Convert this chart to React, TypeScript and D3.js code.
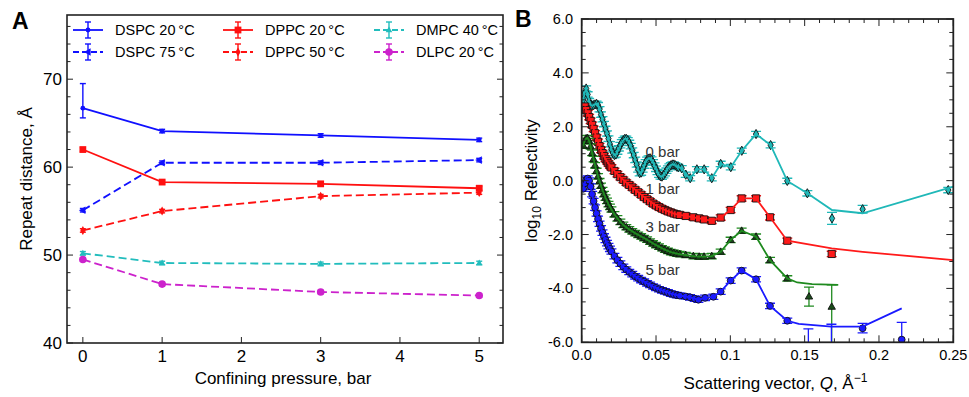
import React from 'react';
import * as d3 from 'd3';

// ---------- Panel A data ----------
const pressures = [0, 1, 3, 5];
const dspc20 = [66.7, 64.1, 63.6, 63.1];
const dspc75 = [55.1, 60.5, 60.5, 60.8];
const dppc20 = [62.0, 58.3, 58.1, 57.6];
const dppc50 = [52.8, 55.0, 56.7, 57.1];
const dmpc40 = [50.2, 49.1, 49.0, 49.1];
const dlpc20 = [49.5, 46.7, 45.8, 45.4];
const dspc20ErrLo = [1.1, 0.2, 0.2, 0.2];
const dspc20ErrHi = [2.8, 0.2, 0.2, 0.2];
const xTicksA = [0, 1, 2, 3, 4, 5];
const yTicksA = [40, 50, 60, 70];

// ---------- Panel B data (Q in 1/Å, log10 R) ----------
const bar0Points: [number, number][] = [
  [0.001, 3.0], [0.002, 3.25], [0.003, 3.42], [0.004, 3.2], [0.005, 2.95], [0.006, 2.82],
  [0.007, 2.78], [0.008, 2.8], [0.009, 2.83], [0.010, 2.85], [0.011, 2.8], [0.012, 2.65],
  [0.013, 2.45], [0.014, 2.28], [0.015, 2.1], [0.016, 1.92], [0.017, 1.75], [0.018, 1.56],
  [0.019, 1.35], [0.020, 1.17], [0.021, 1.03], [0.022, 0.95], [0.023, 0.97], [0.024, 1.08],
  [0.025, 1.2], [0.026, 1.32], [0.027, 1.42], [0.028, 1.5], [0.029, 1.55], [0.030, 1.55],
  [0.031, 1.5], [0.032, 1.4], [0.033, 1.28], [0.034, 1.12], [0.035, 0.95], [0.036, 0.77],
  [0.037, 0.6], [0.038, 0.42], [0.039, 0.28], [0.040, 0.3], [0.041, 0.42], [0.042, 0.56],
  [0.043, 0.68], [0.044, 0.77], [0.045, 0.82], [0.046, 0.83], [0.047, 0.78], [0.048, 0.68],
  [0.049, 0.56], [0.050, 0.44], [0.051, 0.32], [0.052, 0.22], [0.053, 0.16], [0.054, 0.15],
  [0.055, 0.2], [0.056, 0.28], [0.057, 0.37], [0.058, 0.45], [0.059, 0.52], [0.060, 0.57],
  [0.061, 0.6], [0.062, 0.6], [0.063, 0.57], [0.064, 0.52], [0.065, 0.5], [0.0673, 0.46],
  [0.070, 0.22], [0.073, 0.09], [0.0775, 0.42], [0.0824, 0.42], [0.0875, 0.09], [0.0935, 0.62],
  [0.1003, 0.5], [0.1077, 1.11], [0.1173, 1.73], [0.1271, 1.32], [0.1383, -0.01], [0.1518, -0.47],
  [0.1684, -1.4], [0.189, -1.06], [0.2466, -0.35],
];
const bar0Fit: [number, number][] = [[0.1518, -0.47], [0.1684, -1.09], [0.189, -1.21], [0.25, -0.22]];

const bar1Points: [number, number][] = [
  [0.002, 2.75], [0.003, 2.62], [0.004, 2.5], [0.005, 2.36], [0.006, 2.22], [0.007, 2.07],
  [0.008, 1.92], [0.009, 1.76], [0.010, 1.6], [0.011, 1.44], [0.012, 1.28], [0.013, 1.14],
  [0.014, 1.02], [0.015, 0.91], [0.016, 0.81], [0.017, 0.72], [0.018, 0.64], [0.019, 0.56],
  [0.020, 0.49], [0.022, 0.36], [0.024, 0.24], [0.026, 0.13], [0.028, 0.03], [0.030, -0.07],
  [0.032, -0.16], [0.034, -0.25], [0.036, -0.34], [0.038, -0.43], [0.040, -0.52], [0.042, -0.61],
  [0.044, -0.69], [0.046, -0.77], [0.048, -0.85], [0.050, -0.92], [0.052, -0.98], [0.054, -1.04],
  [0.056, -1.09], [0.058, -1.14], [0.060, -1.18], [0.062, -1.22], [0.064, -1.25], [0.066, -1.27],
  [0.070, -1.31], [0.0751, -1.36], [0.079, -1.4], [0.0823, -1.44], [0.0875, -1.49], [0.0935, -1.37],
  [0.1002, -1.09], [0.1076, -0.66], [0.1173, -0.66], [0.1267, -1.36], [0.1383, -2.23], [0.1682, -2.72],
];
const bar1Fit: [number, number][] = [[0.1383, -2.23], [0.1682, -2.51], [0.189, -2.64], [0.25, -2.95]];

const bar3Points: [number, number][] = [
  [0.001, 1.3], [0.002, 1.48], [0.003, 1.57], [0.004, 1.58], [0.005, 1.47], [0.006, 1.27],
  [0.007, 1.03], [0.008, 0.8], [0.009, 0.57], [0.010, 0.36], [0.011, 0.16], [0.012, -0.02],
  [0.013, -0.19], [0.014, -0.35], [0.015, -0.5], [0.016, -0.63], [0.017, -0.75], [0.018, -0.87],
  [0.019, -0.97], [0.020, -1.07], [0.022, -1.25], [0.024, -1.4], [0.026, -1.53], [0.028, -1.64],
  [0.030, -1.73], [0.032, -1.81], [0.034, -1.88], [0.036, -1.95], [0.038, -2.01], [0.040, -2.07],
  [0.042, -2.13], [0.044, -2.19], [0.046, -2.26], [0.048, -2.33], [0.050, -2.39], [0.052, -2.45],
  [0.054, -2.51], [0.056, -2.56], [0.058, -2.61], [0.060, -2.65], [0.062, -2.68], [0.064, -2.71],
  [0.066, -2.73], [0.070, -2.76], [0.0751, -2.8], [0.079, -2.82], [0.0823, -2.82], [0.0875, -2.8],
  [0.0935, -2.64], [0.1002, -2.2], [0.1076, -1.86], [0.1173, -2.08], [0.1267, -2.95], [0.1383, -3.63],
  [0.1529, -4.3], [0.1682, -4.68],
];
const bar3Fit: [number, number][] = [[0.1383, -3.63], [0.145, -3.78], [0.155, -3.84], [0.1726, -3.87]];

const bar5Points: [number, number][] = [
  [0.001, -0.3], [0.002, -0.1], [0.003, 0.03], [0.004, 0.08], [0.005, 0.0], [0.006, -0.22],
  [0.007, -0.5], [0.008, -0.76], [0.009, -1.0], [0.010, -1.22], [0.011, -1.42], [0.012, -1.6],
  [0.013, -1.77], [0.014, -1.93], [0.015, -2.07], [0.016, -2.2], [0.017, -2.32], [0.018, -2.43],
  [0.019, -2.53], [0.020, -2.63], [0.022, -2.8], [0.024, -2.95], [0.026, -3.08], [0.028, -3.2],
  [0.030, -3.3], [0.032, -3.39], [0.034, -3.47], [0.036, -3.55], [0.038, -3.62], [0.040, -3.69],
  [0.042, -3.75], [0.044, -3.81], [0.046, -3.87], [0.048, -3.93], [0.050, -3.98], [0.052, -4.03],
  [0.054, -4.07], [0.056, -4.11], [0.058, -4.15], [0.060, -4.19], [0.062, -4.22], [0.064, -4.25],
  [0.066, -4.27], [0.070, -4.3], [0.0729, -4.33], [0.076, -4.38], [0.0785, -4.42], [0.083, -4.35],
  [0.0886, -4.31], [0.0935, -4.12], [0.1002, -3.71], [0.1076, -3.34], [0.1173, -3.66], [0.1267, -4.65],
  [0.1383, -5.2], [0.1525, -6.3], [0.168, -6.4], [0.189, -5.48], [0.2153, -5.9],
];
const bar5Fit: [number, number][] = [[0.1383, -5.2], [0.146, -5.32], [0.168, -5.42], [0.189, -5.42], [0.2153, -4.74]];

// error bars that differ from the default ±0.1 : [Q, low, high]
const bar0Err: [number, number, number][] = [[0.1684, -1.62, -1.18], [0.189, -1.2, -0.92]];
const bar3Err: [number, number, number][] = [[0.1529, -4.66, -3.95], [0.1682, -7.5, -3.87]];
const bar5Err: [number, number, number][] = [[0.1525, -7.0, -5.5], [0.168, -7.0, -5.33], [0.189, -5.65, -5.3], [0.2153, -6.54, -5.26]];

const qTicks = [0, 0.05, 0.1, 0.15, 0.2, 0.25];
const qTickLabels = ['0.0', '0.05', '0.1', '0.15', '0.2', '0.25'];
const rTicks = [6, 4, 2, 0, -2, -4, -6];
const rTickLabels = ['6.0', '4.0', '2.0', '0.0', '-2.0', '-4.0', '-6.0'];

const FONT = 'Liberation Sans, Arial, Helvetica, sans-serif';

function marker(kind: string, s: number) {
  switch (kind) {
    case 'circle':
      return d3.symbol(d3.symbolCircle, Math.PI * s * s)() as string;
    case 'square':
      return `M${-s},${-s}h${2 * s}v${2 * s}h${-2 * s}Z`;
    case 'triUp':
      return `M0,${-s}L${s * 0.95},${s * 0.65}L${-s * 0.95},${s * 0.65}Z`;
    case 'triLeft':
      return `M${-s},0L${s * 0.65},${-s * 0.95}L${s * 0.65},${s * 0.95}Z`;
    case 'diamond':
      return `M0,${-s * 1.4}L${s * 0.8},0L0,${s * 1.4}L${-s * 0.8},0Z`;
    default:
      return '';
  }
}

const seriesA = [
  { name: 'DSPC 20\u2009°C', values: dspc20, color: '#1010ff', dash: '', kind: 'circle', size: 2.4 },
  { name: 'DSPC 75\u2009°C', values: dspc75, color: '#1010ff', dash: '8,4', kind: 'triLeft', size: 4 },
  { name: 'DPPC 20\u2009°C', values: dppc20, color: '#ff1010', dash: '', kind: 'square', size: 3.4 },
  { name: 'DPPC 50\u2009°C', values: dppc50, color: '#ff1010', dash: '8,4', kind: 'diamond', size: 3.2 },
  { name: 'DMPC 40\u2009°C', values: dmpc40, color: '#22bdbd', dash: '8,4', kind: 'triUp', size: 3.5 },
  { name: 'DLPC 20\u2009°C', values: dlpc20, color: '#cc22cc', dash: '8,4', kind: 'circle', size: 3.8 },
];

const seriesB = [
  { label: '0 bar', pts: bar0Points, fit: bar0Fit, err: bar0Err, color: '#20b8b8', fill: '#20b8b8', kind: 'diamond', size: 3.3, labelQ: 0.043, labelR: 0.87 },
  { label: '1 bar', pts: bar1Points, fit: bar1Fit, err: [] as [number, number, number][], color: '#ff1a1a', fill: '#ff1a1a', kind: 'square', size: 3.6, labelQ: 0.043, labelR: -0.5 },
  { label: '3 bar', pts: bar3Points, fit: bar3Fit, err: bar3Err, color: '#1f8a1f', fill: '#1a4d1a', kind: 'triUp', size: 3.9, labelQ: 0.043, labelR: -1.9 },
  { label: '5 bar', pts: bar5Points, fit: bar5Fit, err: bar5Err, color: '#1a1aff', fill: '#1a1aff', kind: 'circle', size: 3.4, labelQ: 0.043, labelR: -3.5 },
];

function PanelA() {
  const L = 67, R = 503, T = 15, B = 343;
  const x = d3.scaleLinear([-0.2, 5.3], [L, R]);
  const y = d3.scaleLinear([40, 77.3], [B, T]);
  const line = d3.line<number>().x((_, i) => x(pressures[i])).y(d => y(d));
  const minorY = d3.range(42, 77, 2).filter(v => v % 10 !== 0);
  return (
    <g fontFamily={FONT}>
      <text x={12} y={29} fontSize={23} fontWeight="bold">A</text>
      {seriesA.map((s, si) => (
        <g key={si}>
          <path d={line(s.values) as string} fill="none" stroke={s.color} strokeWidth={1.8} strokeDasharray={s.dash} />
          {s.values.map((v, i) => {
            const lo = si === 0 ? v - dspc20ErrLo[i] : v - 0.2;
            const hi = si === 0 ? v + dspc20ErrHi[i] : v + 0.2;
            const cx = x(pressures[i]);
            return (
              <g key={i}>
                <line x1={cx} x2={cx} y1={y(lo)} y2={y(hi)} stroke={s.color} strokeWidth={1.4} />
                <line x1={cx - 3} x2={cx + 3} y1={y(lo)} y2={y(lo)} stroke={s.color} strokeWidth={1.4} />
                <line x1={cx - 3} x2={cx + 3} y1={y(hi)} y2={y(hi)} stroke={s.color} strokeWidth={1.4} />
                <path d={marker(s.kind, s.size)} transform={`translate(${cx},${y(v)})`} fill={s.color} />
              </g>
            );
          })}
        </g>
      ))}
      {/* legend */}
      {seriesA.map((s, i) => {
        const col = Math.floor(i / 2), row = i % 2;
        const lx = [73, 223, 374][col];
        const ly = [30, 52][row];
        return (
          <g key={i}>
            <line x1={lx} x2={lx + 30} y1={ly} y2={ly} stroke={s.color} strokeWidth={1.8} strokeDasharray={s.dash ? '6,3' : ''} />
            <line x1={lx + 15} x2={lx + 15} y1={ly - 8} y2={ly + 8} stroke={s.color} strokeWidth={1.4} />
            <line x1={lx + 12} x2={lx + 18} y1={ly - 8} y2={ly - 8} stroke={s.color} strokeWidth={1.4} />
            <line x1={lx + 12} x2={lx + 18} y1={ly + 8} y2={ly + 8} stroke={s.color} strokeWidth={1.4} />
            <path d={marker(s.kind, s.size)} transform={`translate(${lx + 15},${ly})`} fill={s.color} />
            <text x={lx + 42} y={ly + 5} fontSize={14.5}>{s.name}</text>
          </g>
        );
      })}
      {/* frame and ticks */}
      <rect x={L} y={T} width={R - L} height={B - T} fill="none" stroke="#222" strokeWidth={1.6} />
      {xTicksA.map(t => (
        <g key={t}>
          <line x1={x(t)} x2={x(t)} y1={B} y2={B - 6} stroke="#222" strokeWidth={1} />
          <text x={x(t)} y={362} fontSize={17} textAnchor="middle">{t}</text>
        </g>
      ))}
      {yTicksA.map(t => (
        <g key={t}>
          <line x1={L} x2={L + 6} y1={y(t)} y2={y(t)} stroke="#222" strokeWidth={1} />
          <line x1={R} x2={R - 6} y1={y(t)} y2={y(t)} stroke="#222" strokeWidth={1} />
          <text x={62} y={y(t) + 6} fontSize={17} textAnchor="end">{t}</text>
        </g>
      ))}
      {minorY.map(t => (
        <g key={t}>
          <line x1={L} x2={L + 3.5} y1={y(t)} y2={y(t)} stroke="#222" strokeWidth={1} />
          <line x1={R} x2={R - 3.5} y1={y(t)} y2={y(t)} stroke="#222" strokeWidth={1} />
        </g>
      ))}
      <text x={(L + R) / 2 - 2} y={384} fontSize={17} textAnchor="middle">Confining pressure, bar</text>
      <text transform={`translate(32,${(T + B) / 2}) rotate(-90)`} fontSize={17} textAnchor="middle">Repeat distance, Å</text>
    </g>
  );
}

function PanelB() {
  const L = 581.7, R = 953.3, T = 19, B = 342.3;
  const x = d3.scaleLinear([0, 0.25], [L, R]);
  const y = d3.scaleLinear([-6, 6], [B, T]);
  const line = d3.line<[number, number]>().x(d => x(d[0])).y(d => y(d[1]));
  const minorX = d3.range(0, 0.2501, 0.01).map(v => +v.toFixed(3));
  const minorY = d3.range(-6, 6.01, 0.5);
  return (
    <g fontFamily={FONT}>
      <defs>
        <clipPath id="clipB"><rect x={L} y={T} width={R - L} height={B - T} /></clipPath>
      </defs>
      <text x={515} y={27} fontSize={23} fontWeight="bold">B</text>
      <g clipPath="url(#clipB)">
        {seriesB.map((s, si) => {
          const start = s.fit[0][0];
          const fitLine = s.pts.filter(p => p[0] < start).concat(s.fit);
          return (
            <g key={si}>
              {s.pts.map((p, i) => {
                const e = s.err.find(d => d[0] === p[0]);
                const lo = e ? e[1] : p[1] - 0.1;
                const hi = e ? e[2] : p[1] + 0.1;
                const cx = x(p[0]);
                return (
                  <g key={i} stroke={s.color} strokeWidth={1.3}>
                    <line x1={cx} x2={cx} y1={y(lo)} y2={y(hi)} />
                    <line x1={cx - 5} x2={cx + 5} y1={y(lo)} y2={y(lo)} />
                    <line x1={cx - 5} x2={cx + 5} y1={y(hi)} y2={y(hi)} />
                  </g>
                );
              })}
              {s.pts.map((p, i) => (
                <path key={i} d={marker(s.kind, s.size)} transform={`translate(${x(p[0])},${y(p[1])})`}
                  fill={s.fill} stroke="#111" strokeWidth={0.9} />
              ))}
              <path d={line(fitLine) as string} fill="none" stroke={s.color} strokeWidth={1.8} />
            </g>
          );
        })}
      </g>
      {seriesB.map((s, si) => (
        <text key={si} x={x(s.labelQ)} y={y(s.labelR)} fontSize={15} fill="#333">{s.label}</text>
      ))}
      <rect x={L} y={T} width={R - L} height={B - T} fill="none" stroke="#222" strokeWidth={1.8} />
      {minorX.map(t => {
        const major = qTicks.some(q => Math.abs(q - t) < 1e-6);
        const len = major ? 7 : 4;
        return (
          <g key={t} stroke="#222" strokeWidth={1}>
            <line x1={x(t)} x2={x(t)} y1={B} y2={B - len} />
            <line x1={x(t)} x2={x(t)} y1={T} y2={T + len} />
          </g>
        );
      })}
      {minorY.map(t => {
        const major = rTicks.includes(t);
        const len = major ? 7 : 4;
        return (
          <g key={t} stroke="#222" strokeWidth={1}>
            <line x1={L} x2={L + len} y1={y(t)} y2={y(t)} />
            <line x1={R} x2={R - len} y1={y(t)} y2={y(t)} />
          </g>
        );
      })}
      {qTicks.map((t, i) => (
        <text key={t} x={x(t)} y={360} fontSize={14.5} textAnchor="middle">{qTickLabels[i]}</text>
      ))}
      {rTicks.map((t, i) => (
        <text key={t} x={573} y={y(t) + 5} fontSize={14.5} textAnchor="end">{rTickLabels[i]}</text>
      ))}
      <text x={(L + R) / 2 + 8} y={389} fontSize={17} textAnchor="middle">
        Scattering vector, <tspan fontStyle="italic">Q</tspan>, Å<tspan dy={-7} fontSize={12}>−1</tspan>
      </text>
      <text transform={`translate(537,${(T + B) / 2}) rotate(-90)`} fontSize={17} textAnchor="middle">
        log<tspan dy={4} fontSize={12}>10</tspan><tspan dy={-4}> Reflectivity</tspan>
      </text>
    </g>
  );
}

export default function App() {
  return (
    <svg width={969} height={397} style={{ position: 'absolute', left: 0, top: 0, background: '#fff' }}>
      <rect width={969} height={397} fill="#fff" />
      <PanelA />
      <PanelB />
    </svg>
  );
}
